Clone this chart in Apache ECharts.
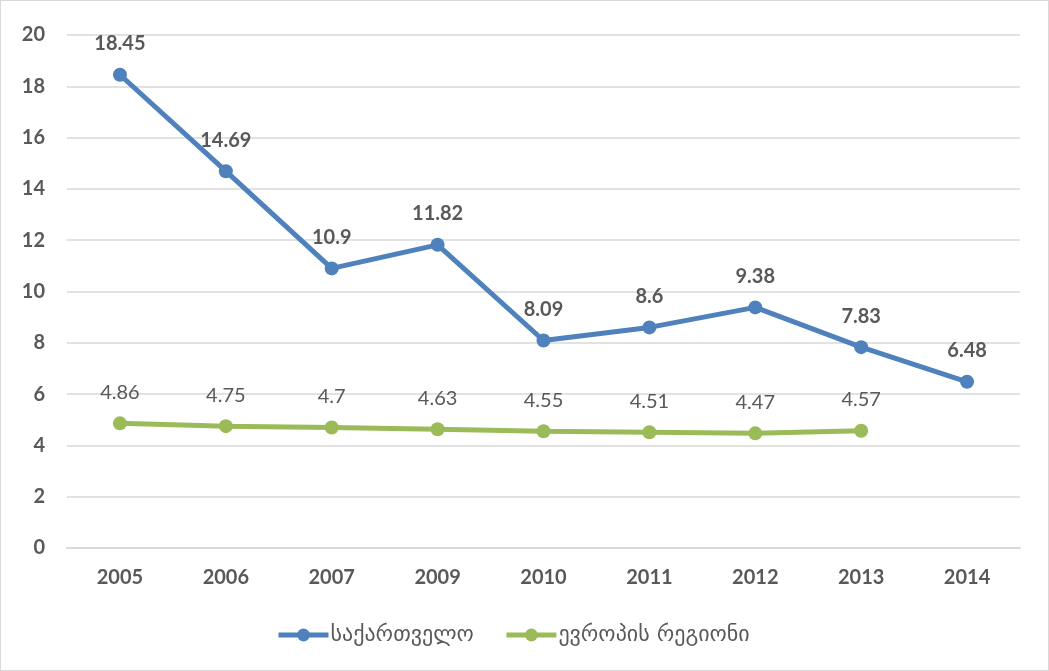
<!DOCTYPE html>
<html><head><meta charset="utf-8">
<script src="https://cdn.jsdelivr.net/npm/echarts@6/dist/echarts.min.js"></script>
<style>html,body{margin:0;padding:0;background:#fff}#c{width:1049px;height:671px;box-sizing:border-box;border:1px solid #d9d9d9}</style>
</head><body><div id="c"></div>
<script>
const categories = ['2005','2006','2007','2009','2010','2011','2012','2013','2014'];
const georgia = [18.45,14.69,10.9,11.82,8.09,8.6,9.38,7.83,6.48];
const europe = [4.86,4.75,4.7,4.63,4.55,4.51,4.47,4.57,null];
const seriesNames = ['საქართველო','ევროპის რეგიონი'];
const yTicks = {min:0,max:20,interval:2};
const chart = echarts.init(document.getElementById('c'));
const font = 'Lato, "Open Sans", "DejaVu Sans", sans-serif';
chart.setOption({
  animation:false,
  grid:{left:66,right:28,top:34,bottom:122},
  legend:{top:618,left:270,itemGap:30,itemWidth:50,itemHeight:16,
    lineStyle:{width:5},
    textStyle:{color:'#595959',fontSize:22,fontFamily:'"DejaVu Sans", sans-serif',padding:[0,0,0,-3]},
    data:seriesNames},
  xAxis:{type:'category',data:categories,boundaryGap:true,
    axisLine:{lineStyle:{color:'#d9d9d9',width:2}},axisTick:{show:false},
    axisLabel:{color:'#595959',fontSize:20,fontWeight:'bold',fontFamily:font,margin:20}},
  yAxis:{type:'value',min:yTicks.min,max:yTicks.max,interval:yTicks.interval,
    axisLine:{show:false},axisTick:{show:false},
    splitLine:{lineStyle:{color:'#d9d9d9',width:1.5}},
    axisLabel:{color:'#595959',fontSize:20,fontWeight:'bold',fontFamily:font,margin:22}},
  series:[
    {name:seriesNames[0],type:'line',data:georgia,symbol:'circle',symbolSize:14,
     lineStyle:{color:'#4F81BD',width:5},itemStyle:{color:'#4F81BD'},
     label:{show:true,position:'top',distance:14,color:'#595959',fontSize:20,fontWeight:'bold',fontFamily:font}},
    {name:seriesNames[1],type:'line',data:europe,symbol:'circle',symbolSize:14,
     lineStyle:{color:'#9BBB59',width:5},itemStyle:{color:'#9BBB59'},
     label:{show:true,position:'top',distance:14,color:'#595959',fontSize:20,fontFamily:font}}
  ]
});
</script></body></html>
